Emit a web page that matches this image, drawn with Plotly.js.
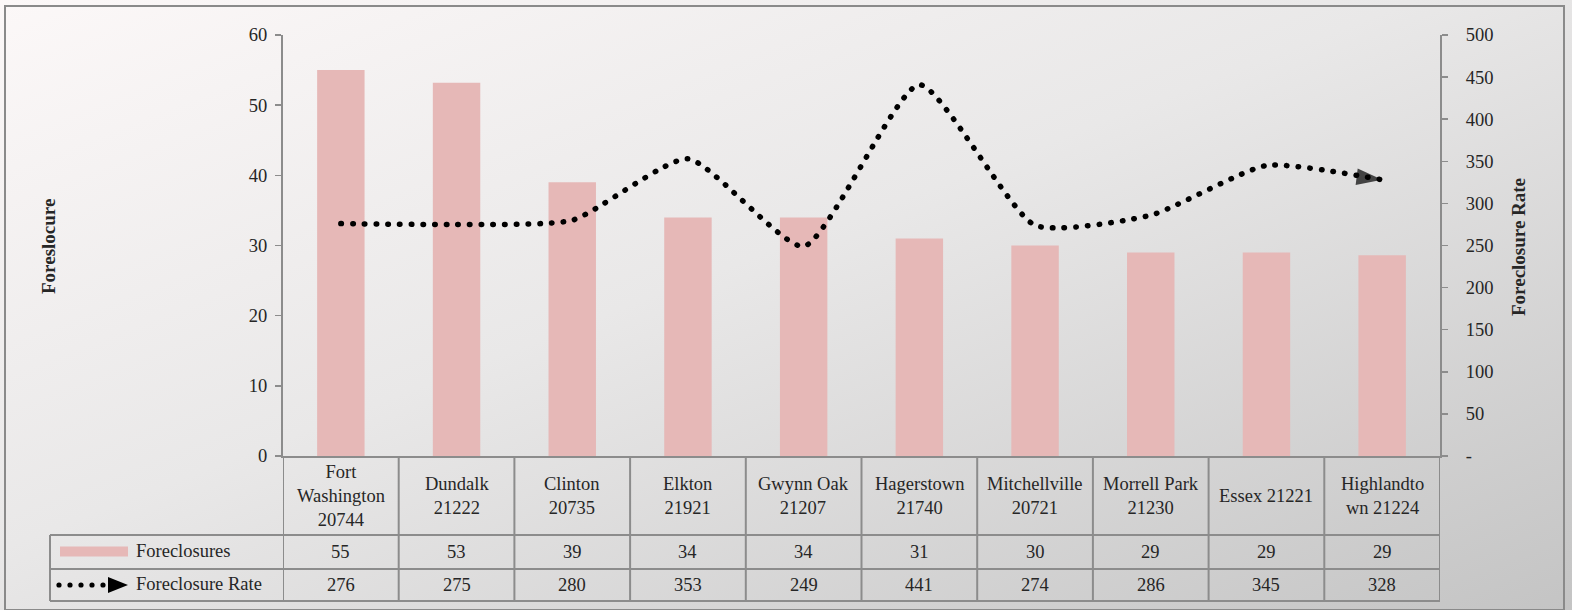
<!DOCTYPE html>
<html>
<head>
<meta charset="utf-8">
<script src="https://cdn.plot.ly/plotly-3.0.1.min.js"></script>
<style>
  html, body { margin: 0; padding: 0; }
  #wrap { position: relative; width: 1572px; height: 610px; overflow: hidden;
          background: linear-gradient(to bottom right, #fcf8f8 0%, #e9e8e8 45%, #c4c4c4 100%); }
  #frame { position: absolute; left: 4px; top: 5px; width: 1557px; height: 602px;
           border: 2px solid #8a8a8a; pointer-events: none; }
  #chart { position: absolute; left: 0; top: 0; width: 1572px; height: 610px; }
  .scatterlayer .js-line { stroke-linecap: round; }
</style>
</head>
<body>
<div id="wrap"><div id="chart"></div><div id="frame"></div></div>
<script>
// ---- data ----
const categories = ["Fort Washington 20744", "Dundalk 21222", "Clinton 20735", "Elkton 21921",
  "Gwynn Oak 21207", "Hagerstown 21740", "Mitchellville 20721", "Morrell Park 21230",
  "Essex 21221", "Highlandtown 21224"];
const categoryLabels = ["Fort<br>Washington<br>20744", "Dundalk<br>21222", "Clinton<br>20735",
  "Elkton<br>21921", "Gwynn Oak<br>21207", "Hagerstown<br>21740", "Mitchellville<br>20721",
  "Morrell Park<br>21230", "Essex 21221", "Highlandto<br>wn 21224"];
const foreclosures = [55, 53.2, 39, 34, 34, 31, 30, 29, 29, 28.6];
const foreclosureRate = [276, 275, 280, 353, 249, 441, 274, 286, 345, 328];
const seriesNames = ["Foreclosures", "Foreclosure Rate"];
const leftTitle = "Foreslocure";
const rightTitle = "Foreclosure Rate";
const leftTicks = [0, 10, 20, 30, 40, 50, 60];
const rightTicks = [0, 50, 100, 150, 200, 250, 300, 350, 400, 450, 500];
const rightTickText = ["-", "50", "100", "150", "200", "250", "300", "350", "400", "450", "500"];

// ---- geometry helpers (pixel -> paper) ----
const W = 1572, H = 610;
const M = { l: 283, r: 132, t: 35, b: 154 };
const PW = W - M.l - M.r, PH = H - M.t - M.b;
const px = x => (x - M.l) / PW;
const py = y => (H - M.b - y) / PH;

const FONT = "Liberation Serif, Times New Roman, serif";
const FS = 18.5;
const GRID = "#8c8c8c";
const TXT = "#262626";
const PINK = "#e6b8b7";

const n = categories.length;
const last = n - 1;

const traces = [
  {
    type: "bar", x: categories, y: foreclosures, name: seriesNames[0],
    marker: { color: PINK }, width: 0.41, hoverinfo: "x+y"
  },
  {
    type: "scatter", mode: "lines+markers", x: categories, y: foreclosureRate, yaxis: "y2",
    name: seriesNames[1],
    line: { color: "#000", width: 5.5, dash: "0.5px,11.2px", shape: "spline", smoothing: 0.55 },
    marker: {
      color: "#000",
      symbol: foreclosureRate.map((v, i) => i === last ? "arrow" : "circle"),
      size: foreclosureRate.map((v, i) => i === last ? 27 : 0),
      angleref: "previous",
      line: { width: 0 }
    }
  }
];

const shapes = [];
const lineStyle = { color: GRID, width: 2 };
// vertical cell borders of the data table
for (let i = 0; i <= n; i++) {
  shapes.push({ type: "line", xref: "x", yref: "paper", x0: i - 0.5, x1: i - 0.5,
    y0: py(456), y1: py(601), line: lineStyle });
}
// horizontal row borders
[535, 569, 601].forEach(yy => shapes.push({ type: "line", xref: "paper", yref: "paper",
  x0: px(50), x1: 1, y0: py(yy), y1: py(yy), line: lineStyle }));
// left border of the legend column
shapes.push({ type: "line", xref: "paper", yref: "paper", x0: px(50), x1: px(50),
  y0: py(535), y1: py(601), line: lineStyle });
// legend key: bar
shapes.push({ type: "rect", xref: "paper", yref: "paper", x0: px(60), x1: px(128),
  y0: py(546.5), y1: py(556.5), fillcolor: PINK, line: { width: 0 } });
// legend key: dotted line with arrow
[59, 70, 81, 92, 103].forEach(cx => shapes.push({ type: "circle", xref: "paper", yref: "paper",
  x0: px(cx - 2.6), x1: px(cx + 2.6), y0: py(585 + 2.6), y1: py(585 - 2.6),
  fillcolor: "#000", line: { width: 0 } }));
shapes.push({ type: "path", xref: "paper", yref: "paper",
  path: `M ${px(108)} ${py(577)} L ${px(128)} ${py(585)} L ${px(108)} ${py(593)} Z`,
  fillcolor: "#000", line: { width: 0 } });

const annotations = [];
const tf = { family: FONT, size: FS, color: TXT };
categories.forEach((c, i) => {
  annotations.push({ xref: "x", yref: "paper", x: c, y: py(495.5), text: categoryLabels[i],
    showarrow: false, font: tf, align: "center", xanchor: "center", yanchor: "middle" });
  annotations.push({ xref: "x", yref: "paper", x: c, y: py(552), text: String(Math.round(foreclosures[i])),
    showarrow: false, font: tf, xanchor: "center", yanchor: "middle" });
  annotations.push({ xref: "x", yref: "paper", x: c, y: py(585), text: String(foreclosureRate[i]),
    showarrow: false, font: tf, xanchor: "center", yanchor: "middle" });
});
annotations.push({ xref: "paper", yref: "paper", x: px(134), y: py(551), text: seriesNames[0],
  showarrow: false, font: tf, xanchor: "left", yanchor: "middle" });
annotations.push({ xref: "paper", yref: "paper", x: px(134), y: py(584), text: seriesNames[1],
  showarrow: false, font: tf, xanchor: "left", yanchor: "middle" });
annotations.push({ xref: "paper", yref: "paper", x: px(48), y: py(247), text: "<b>" + leftTitle + "</b>",
  textangle: -90, showarrow: false, font: { family: FONT, size: 19, color: TXT }, xanchor: "center", yanchor: "middle" });
annotations.push({ xref: "paper", yref: "paper", x: px(1518), y: py(247), text: "<b>" + rightTitle + "</b>",
  textangle: -90, showarrow: false, font: { family: FONT, size: 19, color: TXT }, xanchor: "center", yanchor: "middle" });

const layout = {
  width: W, height: H,
  margin: M,
  paper_bgcolor: "rgba(0,0,0,0)",
  plot_bgcolor: "rgba(0,0,0,0)",
  showlegend: false,
  font: { family: FONT, size: FS, color: TXT },
  xaxis: {
    type: "category", showticklabels: false, ticks: "", showgrid: false, zeroline: false,
    showline: true, linecolor: GRID, linewidth: 2, range: [-0.5, n - 0.5], fixedrange: true
  },
  yaxis: {
    range: [0, 60], tickvals: leftTicks, ticks: "outside", ticklen: 6, tickcolor: GRID, tickwidth: 1.5,
    showgrid: false, zeroline: false, showline: true, linecolor: GRID, linewidth: 2,
    tickfont: { family: FONT, size: FS, color: TXT }, ticklabelstandoff: 4
  },
  yaxis2: {
    overlaying: "y", side: "right", range: [0, 500], tickvals: rightTicks, ticktext: rightTickText,
    ticks: "outside", ticklen: 6, tickcolor: GRID, tickwidth: 1.5,
    showgrid: false, zeroline: false, showline: true, linecolor: GRID, linewidth: 2,
    tickfont: { family: FONT, size: FS, color: TXT }, ticklabelstandoff: 14
  },
  shapes: shapes,
  annotations: annotations
};

Plotly.newPlot("chart", traces, layout, { displayModeBar: false, staticPlot: true });
</script>
</body>
</html>
